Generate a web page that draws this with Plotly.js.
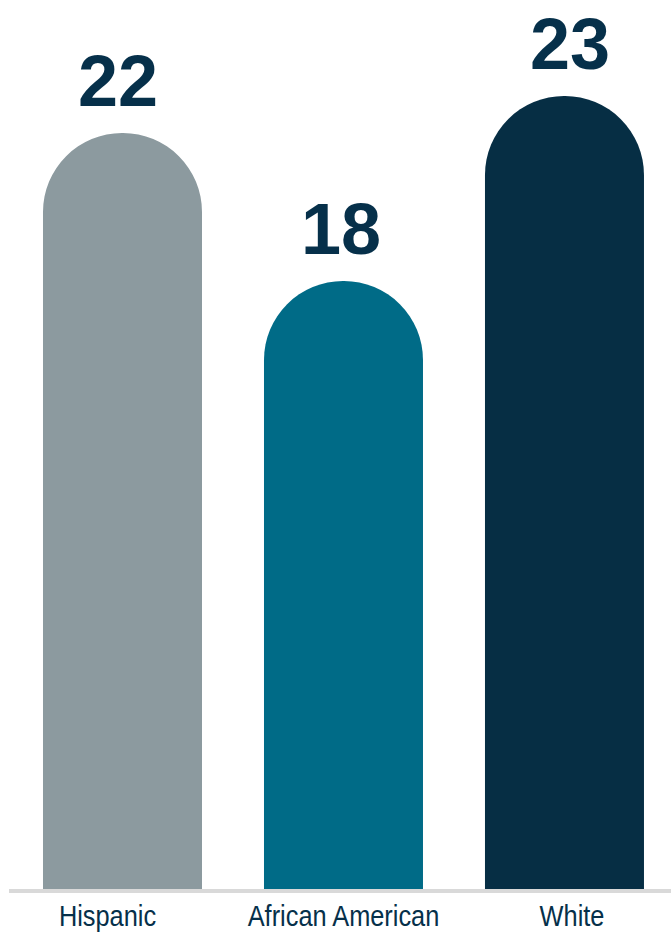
<!DOCTYPE html>
<html>
<head>
<meta charset="utf-8">
<script src="https://cdn.plot.ly/plotly-3.0.1.min.js"></script>
<style>
  html, body { margin: 0; padding: 0; background: #ffffff; }
  #chart { width: 671px; height: 935px; }
  /* narrow (condensed) look of the category labels */
  #chart g.xtick {
    transform-box: fill-box;
    transform-origin: center;
    transform: scaleX(0.845);
  }
</style>
</head>
<body>
<div id="chart"></div>
<script>
const categories = ["Hispanic", "African American", "White"];
const values = [22, 18, 23];
const valueLabels = ["22", "18", "23"];
const barColors = ["#8C9A9F", "#006B87", "#062E44"];

const navy = "#06304A";
const pxPerUnit = 37;
const yMin = 1.568;
const plotH = 889;
const idx = categories.map((c, i) => i);
// small horizontal nudges of the labels relative to their bars
const labelNudge = [-0.068, 0, 0.034];   // in category units
const numberNudge = [-5, -2, 6];         // in px

const trace = {
  type: "bar",
  x: idx,
  y: values,
  marker: { color: barColors, cornerradius: "50%", line: { width: 0 } },
  hoverinfo: "none",
  showlegend: false
};

const annotations = categories.map((c, i) => ({
  x: idx[i], y: values[i], xref: "x", yref: "y",
  text: "<b>" + valueLabels[i] + "</b>",
  showarrow: false, yanchor: "bottom", yshift: 10, xshift: numberNudge[i],
  font: { family: "Liberation Sans, Arial, sans-serif", size: 72, color: navy }
}));

const layout = {
  width: 671, height: 935,
  margin: { l: 12, r: 0, t: 0, b: 935 - plotH },
  paper_bgcolor: "#ffffff", plot_bgcolor: "#ffffff",
  bargap: 0.2805,
  xaxis: {
    type: "linear",
    range: [-0.5, 2.482], fixedrange: true,
    tickmode: "array",
    tickvals: idx.map((v, i) => v + labelNudge[i]),
    ticktext: categories,
    showgrid: false, zeroline: false, showline: false, ticks: "",
    tickfont: { family: "Liberation Sans, Arial, sans-serif", size: 30, color: navy },
    ticklabelstandoff: 6
  },
  yaxis: {
    range: [yMin, yMin + plotH / pxPerUnit], visible: false,
    showgrid: false, zeroline: false, fixedrange: true
  },
  shapes: [{
    type: "line", xref: "paper", yref: "paper",
    x0: -3 / 659, x1: 1, y0: -2 / plotH, y1: -2 / plotH,
    line: { color: "#D9D9D9", width: 4 }, layer: "above"
  }],
  annotations: annotations
};

Plotly.newPlot("chart", [trace], layout, { displayModeBar: false, staticPlot: true });
</script>
</body>
</html>
